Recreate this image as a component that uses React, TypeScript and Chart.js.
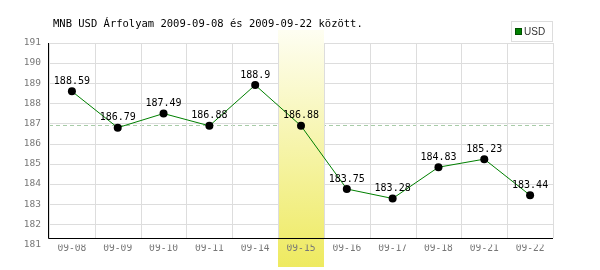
import React, { useEffect, useRef } from "react";
import { Chart, registerables } from "chart.js";

Chart.register(...registerables);

const titleText = "MNB USD Árfolyam 2009-09-08 és 2009-09-22 között.";
const seriesName = "USD";
const categories = ["09-08", "09-09", "09-10", "09-11", "09-14", "09-15", "09-16", "09-17", "09-18", "09-21", "09-22"];
const usdRates = [188.59, 186.79, 187.49, 186.88, 188.9, 186.88, 183.75, 183.28, 184.83, 185.23, 183.44];
const rateLabels = ["188.59", "186.79", "187.49", "186.88", "188.9", "186.88", "183.75", "183.28", "184.83", "185.23", "183.44"];
const highlightIndex = 5;
const referenceRate = 186.9;
const yMin = 181;
const yMax = 191;

const MONO = '"DejaVu Sans Mono", monospace';

const decorPlugin = {
  id: "decor",
  beforeDraw(chart: any) {
    const { ctx, chartArea, scales } = chart;
    const xs = scales.x;
    const ys = scales.y;
    const axisY = 238;
    const half = (chartArea.right - chartArea.left) / categories.length / 2;
    ctx.save();
    ctx.fillStyle = "#ffffff";
    ctx.fillRect(0, 0, chart.width, chart.height);
    // horizontal grid
    ctx.strokeStyle = "#dddddd";
    ctx.lineWidth = 1;
    for (let v = yMin + 1; v <= yMax; v++) {
      const y = Math.round(ys.getPixelForValue(v)) + 0.5;
      ctx.beginPath();
      ctx.moveTo(chartArea.left, y);
      ctx.lineTo(chartArea.right, y);
      ctx.stroke();
    }
    // reference dashed line
    const ry = Math.round(ys.getPixelForValue(referenceRate)) + 0.5;
    ctx.strokeStyle = "#a8cca8";
    ctx.setLineDash([4, 3]);
    ctx.beginPath();
    ctx.moveTo(chartArea.left, ry);
    ctx.lineTo(chartArea.right, ry);
    ctx.stroke();
    ctx.setLineDash([]);
    // highlight band
    const cx = xs.getPixelForValue(highlightIndex);
    const g = ctx.createLinearGradient(0, 30, 0, 267);
    g.addColorStop(0, "#fefef2");
    g.addColorStop(1, "#eeea60");
    ctx.fillStyle = g;
    ctx.fillRect(Math.round(cx - half), 30, Math.round(2 * half), 237);
    // vertical grid
    ctx.strokeStyle = "#dddddd";
    for (let i = 0; i <= categories.length; i++) {
      const x = Math.round(chartArea.left + i * 2 * half) + 0.5;
      ctx.beginPath();
      ctx.moveTo(x, Math.round(ys.getPixelForValue(yMax)));
      ctx.lineTo(x, axisY);
      ctx.stroke();
    }
    // axes
    ctx.strokeStyle = "#000000";
    ctx.beginPath();
    ctx.moveTo(chartArea.left - 0.5, Math.round(ys.getPixelForValue(yMax)));
    ctx.lineTo(chartArea.left - 0.5, axisY + 0.5);
    ctx.lineTo(chartArea.right, axisY + 0.5);
    ctx.stroke();
    ctx.restore();
  },
  afterDatasetsDraw(chart: any) {
    const { ctx } = chart;
    const meta = chart.getDatasetMeta(0);
    ctx.save();
    ctx.font = "10px " + MONO;
    ctx.fillStyle = "#000000";
    ctx.textAlign = "center";
    ctx.textBaseline = "middle";
    meta.data.forEach((pt: any, i: number) => {
      ctx.fillText(rateLabels[i], pt.x, pt.y - 10);
    });
    ctx.restore();
  },
  afterDraw(chart: any) {
    const { ctx } = chart;
    ctx.save();
    ctx.font = "10.5px " + MONO;
    ctx.fillStyle = "#000000";
    ctx.textBaseline = "middle";
    ctx.textAlign = "left";
    ctx.fillText(titleText, 53, 24);
    // legend
    ctx.fillStyle = "#ffffff";
    ctx.fillRect(511, 21, 41, 20);
    ctx.strokeStyle = "#dddddd";
    ctx.lineWidth = 1;
    ctx.strokeRect(511.5, 21.5, 41, 20);
    ctx.fillStyle = "#008000";
    ctx.fillRect(515, 28, 7, 7);
    ctx.strokeStyle = "#005000";
    ctx.strokeRect(515.5, 28.5, 6, 6);
    ctx.fillStyle = "#333333";
    ctx.font = '10px "Liberation Sans", Arial, sans-serif';
    ctx.fillText(seriesName, 524, 32);
    ctx.restore();
  },
};

export default function App() {
  const ref = useRef<HTMLCanvasElement | null>(null);
  useEffect(() => {
    if (!ref.current) return;
    const chart = new Chart(ref.current, {
      type: "line",
      data: {
        labels: categories,
        datasets: [
          {
            label: seriesName,
            data: usdRates,
            borderColor: "#008000",
            borderWidth: 1,
            pointBackgroundColor: "#000000",
            pointBorderColor: "#000000",
            pointRadius: 4,
            pointBorderWidth: 0,
            tension: 0,
          },
        ],
      },
      options: {
        responsive: false,
        animation: false,
        devicePixelRatio: 1,
        layout: { padding: { top: 42.7, right: 47, left: 0, bottom: 0 } },
        plugins: { legend: { display: false }, title: { display: false }, tooltip: { enabled: false } },
        scales: {
          x: {
            offset: true,
            grid: { display: false, drawTicks: false },
            border: { display: false },
            ticks: { color: "#777777", font: { family: MONO, size: 9.6 }, padding: -2, maxRotation: 0, autoSkip: false },
            afterFit: (s: any) => {
              s.height = 25.5;
            },
          },
          y: {
            min: yMin,
            max: yMax,
            grid: { display: false, drawTicks: false },
            border: { display: false },
            ticks: { stepSize: 1, color: "#777777", font: { family: MONO, size: 9.5 }, padding: 8 },
            afterFit: (s: any) => {
              s.width = 49;
            },
          },
        },
      },
      plugins: [decorPlugin],
    });
    return () => chart.destroy();
  }, []);
  return (
    <div style={{ position: "fixed", left: 0, top: 0, width: 600, height: 270, background: "#fff" }}>
      <canvas ref={ref} width={600} height={270} />
    </div>
  );
}
